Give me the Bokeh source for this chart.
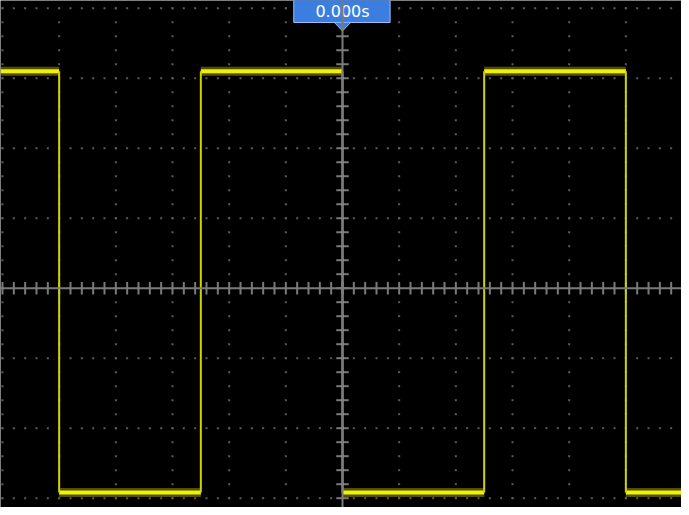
import numpy as np
from bokeh.plotting import figure
from bokeh.models import Range1d, Span
from bokeh.embed import file_html
from bokeh.resources import INLINE
from bokeh.core.properties import value

# ---- data (time and amplitude measured in screen divisions) ----
edge_times = [-5.0, -2.5, 0.0, 2.5, 5.0]   # transitions of the square wave
high_level = 3.10
low_level = -2.92
first_level_high = True                     # trace starts high at the left edge
trigger_time = 0.0
trigger_label = "0.000s"

# visible window (the screenshot is a crop of the 12 x 8 division screen)
X_MIN, X_MAX = -6.035, 5.982
Y_MIN, Y_MAX = -3.133, 4.11
H_HALF_DIVS = 6
V_HALF_DIVS = 4
SUB = 5
PX_PER_VDIV = 70.0

p = figure(width=681, height=507,
           x_range=Range1d(X_MIN, X_MAX), y_range=Range1d(Y_MIN, Y_MAX),
           output_backend="svg", toolbar_location=None, min_border=0)
p.axis.visible = False
p.grid.visible = False
p.outline_line_color = None
p.background_fill_color = "black"
p.border_fill_color = "black"

# ---- dotted graticule ----
gx, gy = [], []
for k in range(-H_HALF_DIVS, H_HALF_DIVS + 1):
    for j in range(-V_HALF_DIVS * SUB, V_HALF_DIVS * SUB + 1):
        gx.append(k); gy.append(j / SUB)
for k in range(-V_HALF_DIVS, V_HALF_DIVS + 1):
    for j in range(-H_HALF_DIVS * SUB, H_HALF_DIVS * SUB + 1):
        gx.append(j / SUB); gy.append(k)
p.scatter(gx, gy, marker="square", size=2, fill_color="#5c5c5c", line_color=None)

# ---- centre cross with ticks ----
p.add_layout(Span(location=0, dimension="width", line_color="#7a7a7a", line_width=2))
p.add_layout(Span(location=0, dimension="height", line_color="#7a7a7a", line_width=2))
tx = [j / SUB for j in range(-H_HALF_DIVS * SUB, H_HALF_DIVS * SUB + 1)]
p.segment(x0=tx, x1=tx, y0=[-0.09] * len(tx), y1=[0.09] * len(tx),
          line_color="#7a7a7a", line_width=2)
ty = [j / SUB for j in range(-V_HALF_DIVS * SUB, V_HALF_DIVS * SUB + 1)]
p.segment(x0=[-0.11] * len(ty), x1=[0.11] * len(ty), y0=ty, y1=ty,
          line_color="#7a7a7a", line_width=2)

# ---- square-wave trace ----
bounds = [X_MIN] + edge_times + [X_MAX]
hx0, hx1, hy = [], [], []
lvl_high = first_level_high
for a, b in zip(bounds[:-1], bounds[1:]):
    hx0.append(a); hx1.append(b); hy.append(high_level if lvl_high else low_level)
    lvl_high = not lvl_high
# fuzz (noise band)
p.segment(x0=hx0, x1=hx1, y0=hy, y1=hy, line_color="#e6e600", line_width=9, line_alpha=0.35)
p.segment(x0=hx0, x1=hx1, y0=hy, y1=hy, line_color="#f2f200", line_width=4)
p.segment(x0=edge_times, x1=edge_times, y0=[low_level] * len(edge_times),
          y1=[high_level] * len(edge_times), line_color="#d2d200", line_width=2)

# ---- trigger position marker ----
BOX_BOTTOM = Y_MAX - 22 / PX_PER_VDIV
p.quad(left=[trigger_time - 0.86], right=[trigger_time + 0.84],
       bottom=[BOX_BOTTOM], top=[Y_MAX + 0.3],
       fill_color="#3c7ee0", line_color="#9cc2f5", line_width=1)
p.patch([trigger_time - 0.15, trigger_time + 0.15, trigger_time],
        [BOX_BOTTOM + 0.005, BOX_BOTTOM + 0.005, BOX_BOTTOM - 0.12],
        fill_color="#3c7ee0", line_color="#9cc2f5", line_width=1)
p.quad(left=[trigger_time - 0.84], right=[trigger_time + 0.82],
       bottom=[BOX_BOTTOM + 0.012], top=[Y_MAX + 0.3], fill_color="#3c7ee0", line_color=None)
p.text(x=[trigger_time], y=[Y_MAX - 11.5 / PX_PER_VDIV], text=[trigger_label],
       text_font=value("DejaVu Sans"), text_font_size="16px",
       text_color="white", text_align="center", text_baseline="middle")

open("out.html", "w").write(file_html(p, INLINE))
